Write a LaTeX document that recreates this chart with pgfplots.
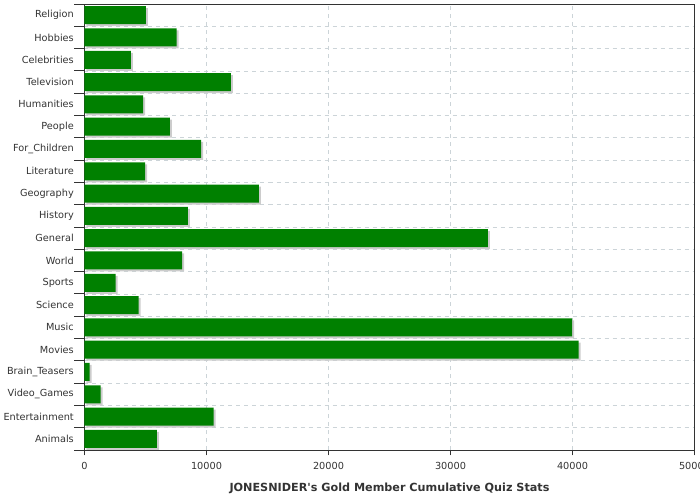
\documentclass[border=0pt]{standalone}
\usepackage{fontspec}
\setmainfont{DejaVu Sans}
\usepackage{pgfplots}
\usepackage{pgfplotstable}
\pgfplotsset{compat=1.18}
\definecolor{bargreen}{HTML}{008000}
\definecolor{txt}{HTML}{333333}
\definecolor{gridc}{HTML}{CCD4D8}
\pgfplotstableread{
y v
0 5940
1 10590
2 1330
3 420
4 40500
5 39960
6 4440
7 2550
8 8000
9 33070
10 8480
11 14300
12 4960
13 9550
14 7000
15 4800
16 12000
17 3810
18 7550
19 5040
}\data
\begin{document}
\begin{tikzpicture}[x=1pt,y=1pt]
\useasboundingbox (-63.375pt,-37.5pt) rectangle (461.625pt,337.5pt);
\begin{axis}[
  at={(0pt,0pt)}, anchor=south west,
  scale only axis, width=457.5pt, height=334.5pt,
  xmin=0, xmax=50000, ymin=-0.5, ymax=19.5,
  xbar, bar width=13.5pt,
  xtick={0,10000,20000,30000,40000,50000},
  scaled x ticks=false,
  xticklabel style={/pgf/number format/fixed,/pgf/number format/1000 sep={}},
  /pgf/number format/assume math mode=true,
  ytick={0,...,19},
  yticklabels={Animals,Entertainment,Video\_Games,Brain\_Teasers,Movies,Music,Science,Sports,World,General,History,Geography,Literature,For\_Children,People,Humanities,Television,Celebrities,Hobbies,Religion},
  minor ytick={-0.5,0.5,...,19.5},
  xtick pos=bottom, ytick pos=left,
  major tick length=0pt,
  minor tick length=7.5pt,
  extra x ticks={0,10000,20000,30000,40000,50000},
  extra x tick labels={},
  extra x tick style={major tick length=4pt, grid=none},
  tick align=outside,
  tick style={txt, line width=0.75pt},
  axis line style={txt, line width=0.75pt},
  xmajorgrids, yminorgrids,
  major grid style={gridc, dash pattern=on 3pt off 3pt, line width=0.6pt},
  minor grid style={gridc, dash pattern=on 3pt off 3pt, line width=0.6pt},
  tick label style={font=\fontsize{7.3}{8}\selectfont, text=txt},
  xticklabel style={yshift=-5.5pt},
  yticklabel style={xshift=-4.5pt},
  xlabel={JONESNIDER\textquotesingle s Gold Member Cumulative Quiz Stats},
  xlabel style={font=\bfseries\fontsize{8.4}{10}\selectfont, text=txt, yshift=1pt},
]
\addplot[draw=none, fill=bargreen,
  preaction={fill=black!20, transform canvas={xshift=1.5pt,yshift=-1.5pt}}]
  table[x=v,y=y]{\data};
\end{axis}
\end{tikzpicture}
\end{document}
